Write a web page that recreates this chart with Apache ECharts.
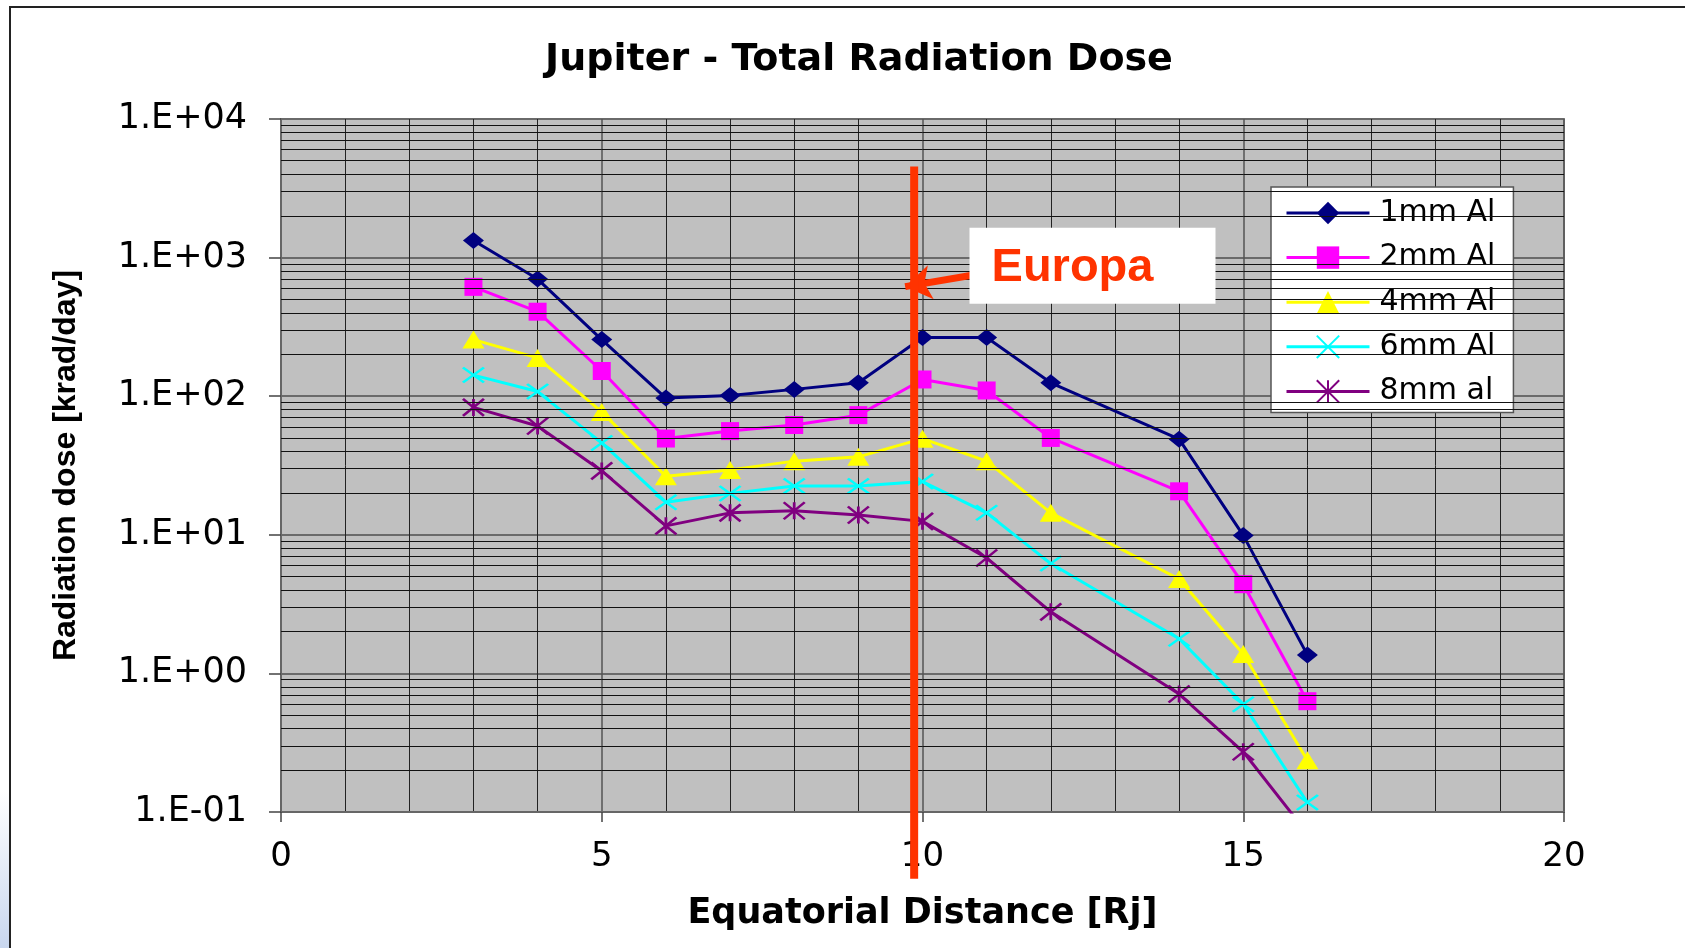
<!DOCTYPE html>
<html>
<head>
<meta charset="utf-8">
<script src="https://cdn.jsdelivr.net/npm/echarts@6/dist/echarts.min.js"></script>
<style>
html,body{margin:0;padding:0;background:#fff;}
#chart{width:1685px;height:948px;}
</style>
</head>
<body>
<div id="chart"></div>
<script>
// ---- data ----
const distances = [3, 4, 5, 6, 7, 8, 9, 10, 11, 12, 14, 15, 16];
const seriesNames = ['1mm Al', '2mm Al', '4mm Al', '6mm Al', '8mm al'];
const dose1mm = [1330, 700, 256, 97, 101, 112, 125, 265, 265, 125, 49, 9.9, 1.36];
const dose2mm = [615, 407, 152, 49.5, 56, 62, 73, 132, 110, 50, 20.6, 4.4, 0.63];
const dose4mm = [256, 189, 77, 26.4, 29.4, 34, 36.5, 49.4, 34, 14.4, 4.8, 1.38, 0.236];
const dose6mm = [142, 108, 46, 17.2, 19.9, 22.5, 22.5, 24.2, 14.4, 6.2, 1.78, 0.6, 0.117];
const dose8mm = [83, 61, 28.9, 11.6, 14.4, 14.9, 13.9, 12.5, 6.8, 2.78, 0.71, 0.272, 0.07];
const yTickLabels = ['1.E-01', '1.E+00', '1.E+01', '1.E+02', '1.E+03', '1.E+04'];
const decades = [0.1, 1, 10, 100, 1000];
const minorFactors = [2, 3, 4, 5, 6, 7, 8, 9];
// Europa marker (vertical line) and annotation
const europaX = 9.87;
const europaLineY = [4540, 0.033];
const europaArrow = [[11.0, 778], [9.73, 617]];
const europaBox = [12.65, 874];

const colors = ['#000080', '#FF00FF', '#FFFF00', '#00FFFF', '#800080'];
const symbols = [
  'diamond', 'rect', 'triangle',
  'path://M0,0L20,14M0,14L20,0',
  'path://M0,0L20,16M0,16L20,0M10,0L10,16'
];
const symbolSizes = [[21, 17], [18, 18], [22, 18], [21, 15], [21, 17]];
const allData = [dose1mm, dose2mm, dose4mm, dose6mm, dose8mm];

const chart = echarts.init(document.getElementById('chart'));

const minorValues = [];
decades.forEach(d => minorFactors.forEach(f => minorValues.push(d * f)));

const dataSeries = seriesNames.map((name, i) => ({
  name: name,
  type: 'line',
  z: 3,
  data: distances.map((x, k) => [x, allData[i][k]]),
  symbol: symbols[i],
  symbolSize: symbolSizes[i],
  symbolKeepAspect: false,
  showAllSymbol: true,
  lineStyle: { color: colors[i], width: 3 },
  itemStyle: {
    color: colors[i],
    borderColor: colors[i],
    borderWidth: i >= 3 ? 2.5 : 0
  },
  clip: true,
  silent: true
}));

const option = {
  animation: false,
  backgroundColor: '#ffffff',
  title: {
    text: 'Jupiter - Total Radiation Dose',
    left: 854,
    textAlign: 'center',
    top: 36,
    textStyle: { fontFamily: 'DejaVu Sans', fontWeight: 'bold', fontSize: 38, color: '#000' }
  },
  legend: {
    data: seriesNames,
    orient: 'vertical',
    left: 1271,
    top: 187,
    padding: [11, 18, 6, 14],
    itemWidth: 83,
    itemHeight: 28,
    itemGap: 14.6,
    backgroundColor: '#ffffff',
    borderColor: '#555',
    borderWidth: 1.5,
    borderRadius: 0,
    lineStyle: { width: 3 },
    textStyle: { fontFamily: 'DejaVu Sans', fontSize: 30, color: '#000', padding: [0, 0, 0, 5] }
  },
  grid: {
    left: 281,
    top: 119,
    right: 121,
    bottom: 136,
    show: true,
    backgroundColor: '#C0C0C0',
    borderColor: '#808080',
    borderWidth: 2
  },
  xAxis: {
    type: 'value',
    min: 0,
    max: 20,
    interval: 5,
    name: 'Equatorial Distance [Rj]',
    nameLocation: 'middle',
    nameGap: 84,
    nameTextStyle: { fontFamily: 'DejaVu Sans', fontWeight: 'bold', fontSize: 35, color: '#000' },
    axisLine: { show: true, lineStyle: { color: '#666', width: 2 } },
    axisTick: { show: true, length: 10, lineStyle: { color: '#444', width: 1.5 } },
    axisLabel: { margin: 28, fontFamily: 'DejaVu Sans', fontSize: 34, color: '#000' },
    splitLine: { show: true, lineStyle: { color: '#555', width: 1.5 } },
    minorTick: { show: false, splitNumber: 5 },
    minorSplitLine: { show: true, lineStyle: { color: '#222', width: 1 } }
  },
  yAxis: {
    type: 'log',
    logBase: 10,
    min: 0.1,
    max: 10000,
    name: 'Radiation dose [krad/day]',
    nameLocation: 'middle',
    nameRotate: 90,
    nameGap: 199,
    nameTextStyle: { fontFamily: 'Liberation Sans', fontWeight: 'bold', fontSize: 32, color: '#000' },
    axisLine: { show: true, lineStyle: { color: '#666', width: 2 } },
    axisTick: { show: true, length: 12, lineStyle: { color: '#444', width: 1.5 } },
    axisLabel: {
      margin: 34,
      fontFamily: 'DejaVu Sans',
      fontSize: 35,
      color: '#000',
      formatter: function (v) {
        const e = Math.round(Math.log10(v));
        return yTickLabels[e + 1] !== undefined ? yTickLabels[e + 1] : '';
      }
    },
    splitLine: { show: true, lineStyle: { color: '#6a6a6a', width: 2 } }
  },
  series: [
    {
      name: '_grid',
      type: 'line',
      z: 1,
      data: [],
      silent: true,
      markLine: {
        silent: true,
        symbol: ['none', 'none'],
        label: { show: false },
        lineStyle: { color: '#111', width: 1, type: 'solid' },
        data: minorValues.map(v => ({ yAxis: v }))
      }
    },
    ...dataSeries,
    {
      name: '_europaBox',
      type: 'line',
      z: 4,
      data: [],
      silent: true,
      markPoint: {
        silent: true,
        data: [{
          coord: europaBox,
          symbol: 'rect',
          symbolSize: [246, 76],
          itemStyle: { color: '#ffffff' },
          label: {
            show: true,
            formatter: 'Europa',
            position: 'inside',
            offset: [-20, 2],
            fontFamily: 'Liberation Sans',
            fontWeight: 'bold',
            fontSize: 47,
            color: '#FF3300'
          }
        }]
      }
    },
    {
      name: '_europaLine',
      type: 'line',
      z: 5,
      clip: false,
      silent: true,
      symbol: 'none',
      data: europaLineY.map(y => [europaX, y]),
      lineStyle: { color: '#FF3300', width: 8 },
      markLine: {
        silent: true,
        symbol: ['none', 'arrow'],
        symbolSize: [26, 26],
        label: { show: false },
        lineStyle: { color: '#FF3300', width: 7, type: 'solid' },
        data: [[{ coord: europaArrow[0] }, { coord: europaArrow[1] }]]
      }
    }
  ],
  graphic: [
    {
      type: 'rect',
      silent: true,
      z: -10,
      shape: { x: 0, y: 790, width: 9, height: 160 },
      style: {
        fill: new echarts.graphic.LinearGradient(0, 0, 0, 1, [
          { offset: 0, color: '#ffffff' },
          { offset: 1, color: '#c8d6ee' }
        ])
      }
    },
    {
      type: 'rect',
      silent: true,
      z: 100,
      shape: { x: 10, y: 7, width: 1700, height: 960 },
      style: { fill: 'none', stroke: '#222', lineWidth: 2 }
    }
  ]
};

chart.setOption(option);
</script>
</body>
</html>
